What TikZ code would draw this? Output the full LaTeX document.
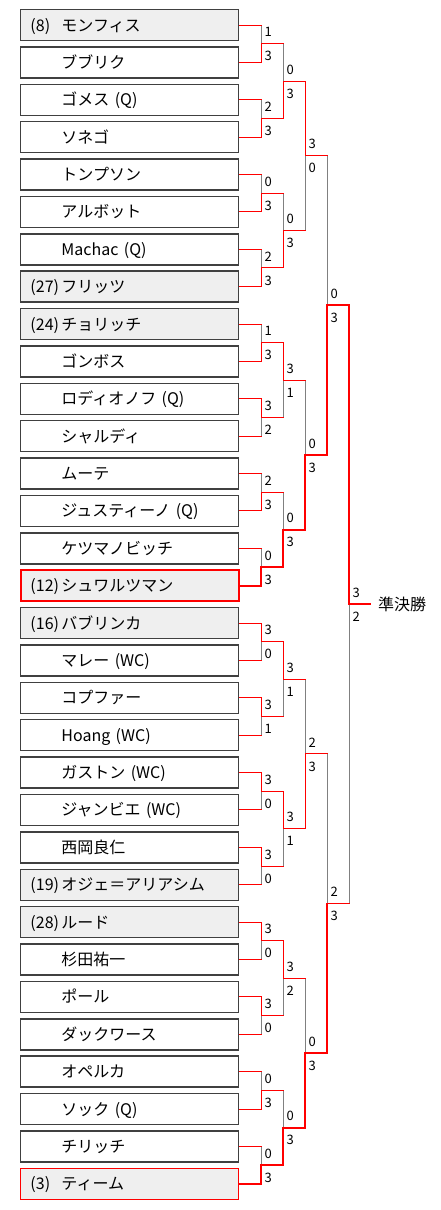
\documentclass[tikz,border=0pt]{standalone}
\usepackage{fontspec}
\setmainfont{Noto Sans CJK JP}
\definecolor{wred}{HTML}{FF0000}
\definecolor{lgray}{HTML}{808080}
\definecolor{bdr}{HTML}{404040}
\definecolor{seedfill}{HTML}{EFEFEF}
\tikzset{
 bx/.style={draw=bdr, line width=1.5pt, fill=white, minimum height=31pt, text width=198pt,
   inner xsep=10pt, inner ysep=0pt, align=left, text height=13.5pt, text depth=1.5pt,
   font=\fontsize{16}{18}\selectfont},
 sd/.style={bx, fill=seedfill},
 sdA/.style={sd, draw=wred, line width=2pt},
 sdB/.style={sd, draw=wred, line width=1pt},
 win/.style={draw=wred, line width=1pt, line cap=rect},
 winT/.style={draw=wred, line width=1.8pt, line cap=rect},
 lose/.style={draw=lgray, line width=1pt, line cap=rect},
 score/.style={anchor=west, inner sep=0pt, font=\fontsize{13}{15}\selectfont},
}
% #1 round, #2 match, #3 top score, #4 bottom score, #5 top thick, #6 bottom thick
\newcommand\bmatch[6]{%
 \pgfmathsetmacro\vx{261+22*(#1-1)}%
 \pgfmathtruncatemacro\nn{2^(#1)}%
 \pgfmathtruncatemacro\hh{2^(#1-1)}%
 \pgfmathsetmacro\ymid{25+37.38*(#2*\nn+(\nn-1)/2)}%
 \pgfmathsetmacro\ytop{25+37.38*(#2*\nn+(\hh-1)/2)}%
 \pgfmathsetmacro\ybot{25+37.38*(#2*\nn+\hh+(\hh-1)/2)}%
 \pgfmathtruncatemacro\ia{2*#2}%
 \pgfmathtruncatemacro\ib{2*#2+1}%
 \ifnum#1=1 \edef\srcA{p\ia.east}\edef\srcB{p\ib.east}%
 \else \pgfmathtruncatemacro\pr{#1-1}\edef\srcA{r\pr m\ia}\edef\srcB{r\pr m\ib}\fi
 \ifnum#5=1 \def\hA{winT}\else\def\hA{win}\fi
 \ifnum#6=1 \def\hB{winT}\else\def\hB{win}\fi
 \ifnum#3>#4 \let\vA\hA\def\vB{lose}\else\def\vA{lose}\let\vB\hB\fi
 \coordinate (r#1m#2) at (\vx,\ymid);
 \coordinate (r#1m#2a) at (\vx,\ytop);
 \coordinate (r#1m#2b) at (\vx,\ybot);
 \ifnum#3>#4
   \draw[\vB] (r#1m#2) -- (r#1m#2b);
   \draw[\vA] (r#1m#2a) -- (r#1m#2);
 \else
   \draw[\vA] (r#1m#2a) -- (r#1m#2);
   \draw[\vB] (r#1m#2) -- (r#1m#2b);
 \fi
 \draw[\hA] (\srcA) -- (r#1m#2a);
 \draw[\hB] (\srcB) -- (r#1m#2b);
 \node[score] (r#1m#2s) at ({\vx+3.5},{\ymid-11.5}) {#3};
 \node[score] (r#1m#2t) at ({\vx+3.5},{\ymid+12.5}) {#4};
}
\begin{document}
\begin{tikzpicture}[x=1pt,y=-1pt]
\useasboundingbox (0,0) rectangle (440,1210);
\foreach \i/\s/\n/\st in {
 0/(8)/モンフィス/sd, 1//ブブリク/bx, 2//ゴメス (Q)/bx, 3//ソネゴ/bx,
 4//トンプソン/bx, 5//アルボット/bx, 6//Machac (Q)/bx, 7/(27)/フリッツ/sd,
 8/(24)/チョリッチ/sd, 9//ゴンボス/bx, 10//ロディオノフ (Q)/bx, 11//シャルディ/bx,
 12//ムーテ/bx, 13//ジュスティーノ (Q)/bx, 14//ケツマノビッチ/bx, 15/(12)/シュワルツマン/sdA,
 16/(16)/バブリンカ/sd, 17//マレー (WC)/bx, 18//コプファー/bx, 19//Hoang (WC)/bx,
 20//ガストン (WC)/bx, 21//ジャンビエ (WC)/bx, 22//西岡良仁/bx, 23/(19)/オジェ＝アリアシム/sd,
 24/(28)/ルード/sd, 25//杉田祐一/bx, 26//ポール/bx, 27//ダックワース/bx,
 28//オペルカ/bx, 29//ソック (Q)/bx, 30//チリッチ/bx, 31/(3)/ティーム/sdB}
 {\node[\st] (p\i) at (129.5,{25+37.38*\i}) {\makebox[31pt][l]{\s}\n};}
% round 1
\bmatch{1}{0}{1}{3}{0}{0}
\bmatch{1}{1}{2}{3}{0}{0}
\bmatch{1}{2}{0}{3}{0}{0}
\bmatch{1}{3}{2}{3}{0}{0}
\bmatch{1}{4}{1}{3}{0}{0}
\bmatch{1}{5}{3}{2}{0}{0}
\bmatch{1}{6}{2}{3}{0}{0}
\bmatch{1}{7}{0}{3}{0}{1}
\bmatch{1}{8}{3}{0}{0}{0}
\bmatch{1}{9}{3}{1}{0}{0}
\bmatch{1}{10}{3}{0}{0}{0}
\bmatch{1}{11}{3}{0}{0}{0}
\bmatch{1}{12}{3}{0}{0}{0}
\bmatch{1}{13}{3}{0}{0}{0}
\bmatch{1}{14}{0}{3}{0}{0}
\bmatch{1}{15}{0}{3}{0}{1}
% round 2
\bmatch{2}{0}{0}{3}{0}{0}
\bmatch{2}{1}{0}{3}{0}{0}
\bmatch{2}{2}{3}{1}{0}{0}
\bmatch{2}{3}{0}{3}{0}{1}
\bmatch{2}{4}{3}{1}{0}{0}
\bmatch{2}{5}{3}{1}{0}{0}
\bmatch{2}{6}{3}{2}{0}{0}
\bmatch{2}{7}{0}{3}{0}{1}
% round 3
\bmatch{3}{0}{3}{0}{0}{0}
\bmatch{3}{1}{0}{3}{0}{1}
\bmatch{3}{2}{2}{3}{0}{0}
\bmatch{3}{3}{0}{3}{0}{1}
% round 4
\bmatch{4}{0}{0}{3}{0}{1}
\bmatch{4}{1}{2}{3}{0}{1}
% round 5
\bmatch{5}{0}{3}{2}{1}{1}
\node[anchor=west, inner xsep=8pt, inner ysep=0pt, font=\fontsize{16}{18}\selectfont] (sf) at (370,{25+37.38*15.5}) {準決勝};
\draw[winT] (r5m0) -- (sf.west);
\end{tikzpicture}
\end{document}
